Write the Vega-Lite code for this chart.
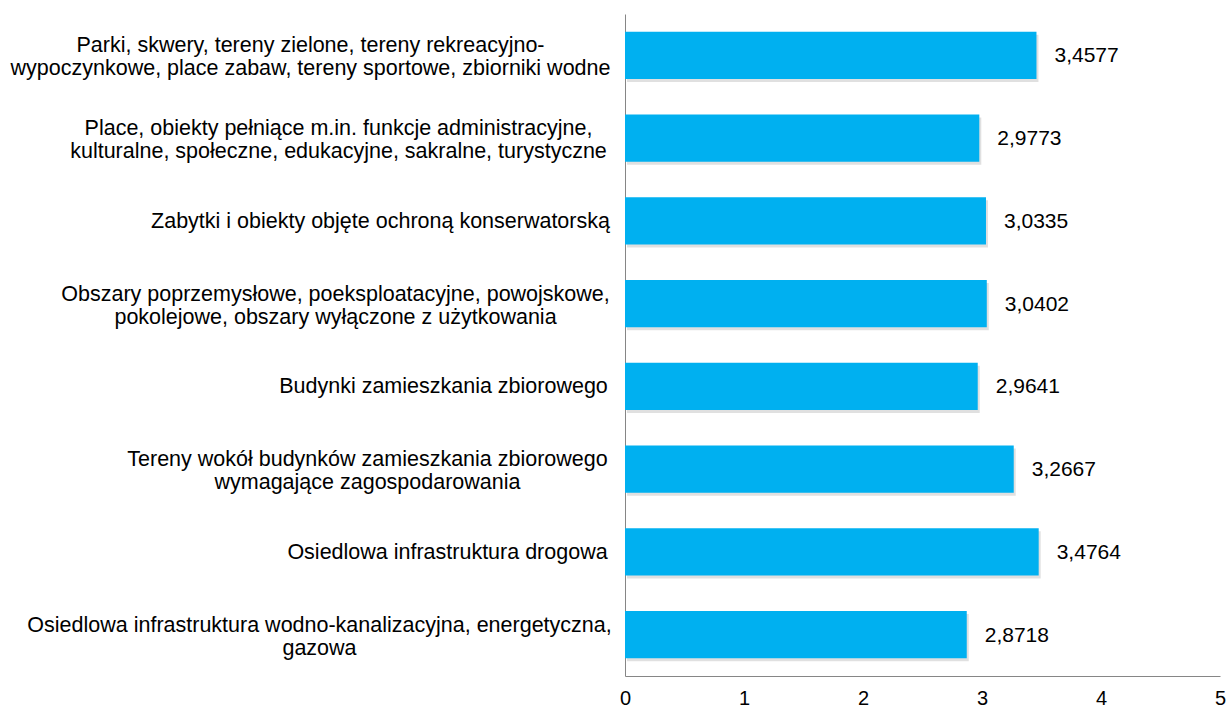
{
  "$schema": "https://vega.github.io/schema/vega-lite/v6.json",
  "width": 595,
  "height": 662,
  "autosize": {"type": "none"},
  "padding": {"left": 625, "top": 14, "right": 10, "bottom": 33},
  "background": "white",
  "config": {
    "view": {"stroke": null},
    "font": "Liberation Sans",
    "locale": {
      "number": {"decimal": ",", "thousands": " ", "grouping": [3], "currency": ["", " zł"]}
    }
  },
  "data": {
    "values": [
      {"cat": "Parki, skwery, tereny zielone, tereny rekreacyjno-|wypoczynkowe, place zabaw, tereny sportowe, zbiorniki wodne", "value": 3.4577},
      {"cat": "Place, obiekty pełniące m.in. funkcje administracyjne,|kulturalne, społeczne, edukacyjne, sakralne, turystyczne", "value": 2.9773},
      {"cat": "Zabytki i obiekty objęte ochroną konserwatorską", "value": 3.0335},
      {"cat": "Obszary poprzemysłowe, poeksploatacyjne, powojskowe,|pokolejowe, obszary wyłączone z użytkowania", "value": 3.0402},
      {"cat": "Budynki zamieszkania zbiorowego", "value": 2.9641},
      {"cat": "Tereny wokół budynków zamieszkania zbiorowego|wymagające zagospodarowania", "value": 3.2667},
      {"cat": "Osiedlowa infrastruktura drogowa", "value": 3.4764},
      {"cat": "Osiedlowa infrastruktura wodno-kanalizacyjna, energetyczna,|gazowa", "value": 2.8718}
    ]
  },
  "encoding": {
    "y": {
      "field": "cat",
      "type": "nominal",
      "sort": null,
      "scale": {"paddingInner": 0.432, "paddingOuter": 0.216},
      "axis": {
        "title": null,
        "ticks": false,
        "domainColor": "#868686",
        "domainWidth": 1,
        "labelFontSize": 21.5,
        "labelColor": "#000000",
        "labelLimit": 0,
        "labelLineHeight": 23,
        "labelExpr": "split(datum.value, '|')",
        "labelAlign": "center",
        "labelOffset": {
          "condition": {"test": "length(split(datum.value, '|')) > 1", "value": -9},
          "value": 1
        },
        "labelPadding": {
          "condition": [
            {"test": "datum.value == 'Parki, skwery, tereny zielone, tereny rekreacyjno-|wypoczynkowe, place zabaw, tereny sportowe, zbiorniki wodne'", "value": 315},
            {"test": "datum.value == 'Place, obiekty pełniące m.in. funkcje administracyjne,|kulturalne, społeczne, edukacyjne, sakralne, turystyczne'", "value": 287},
            {"test": "datum.value == 'Zabytki i obiekty objęte ochroną konserwatorską'", "value": 245},
            {"test": "datum.value == 'Obszary poprzemysłowe, poeksploatacyjne, powojskowe,|pokolejowe, obszary wyłączone z użytkowania'", "value": 290},
            {"test": "datum.value == 'Budynki zamieszkania zbiorowego'", "value": 182},
            {"test": "datum.value == 'Tereny wokół budynków zamieszkania zbiorowego|wymagające zagospodarowania'", "value": 258},
            {"test": "datum.value == 'Osiedlowa infrastruktura drogowa'", "value": 178}
          ],
          "value": 306
        }
      }
    },
    "x": {
      "field": "value",
      "type": "quantitative",
      "scale": {"domain": [0, 5], "nice": false},
      "axis": {
        "title": null,
        "values": [0, 1, 2, 3, 4, 5],
        "format": "d",
        "ticks": false,
        "grid": false,
        "labelFontSize": 20,
        "labelColor": "#000000",
        "labelPadding": 12,
        "labelFlush": false,
        "domainColor": "#868686",
        "domainWidth": 1
      }
    }
  },
  "layer": [
    {"mark": {"type": "bar", "color": "#000000", "opacity": 0.12, "xOffset": 2, "yOffset": 3}},
    {"mark": {"type": "bar", "color": "#00B0F0"}},
    {
      "mark": {"type": "text", "align": "left", "baseline": "middle", "dx": 18, "dy": 1, "fontSize": 21, "color": "#000000"},
      "encoding": {"text": {"field": "value", "type": "quantitative", "format": ".4f"}}
    }
  ]
}
